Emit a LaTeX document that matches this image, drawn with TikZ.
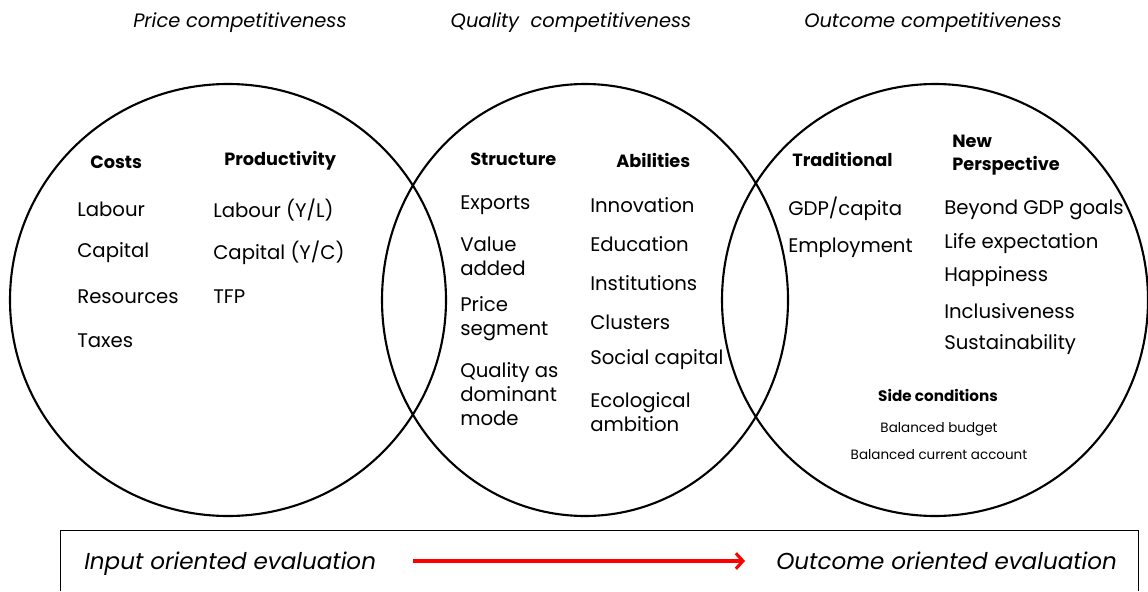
\documentclass[tikz,border=0pt]{standalone}
\usepackage{fontspec}
\setmainfont{Poppins}
\usetikzlibrary{positioning,arrows.meta}

\begin{document}
\begin{tikzpicture}[x=0.025cm,y=-0.025cm]
\tikzstyle{ring}=[draw=black, line width=1.5pt]
\tikzstyle{title}=[anchor=base, font=\fontsize{13.8}{16}\selectfont\itshape, inner sep=0pt]
\tikzstyle{head}=[anchor=west, align=left, inner sep=0pt, font=\fontsize{12.6}{16}\selectfont\bfseries]
\tikzstyle{item}=[anchor=west, align=left, inner sep=0pt, font=\fontsize{14}{17}\selectfont]
\tikzstyle{small}=[inner sep=0pt, font=\fontsize{9.6}{11}\selectfont]
\tikzstyle{evaluation}=[anchor=base west, inner sep=0pt, font=\fontsize{16.4}{19}\selectfont\itshape]
\tikzstyle{connect}=[-{Straight Barb[length=5pt,width=11pt]}, red, line width=2.2pt]

\useasboundingbox (0,0) rectangle (1148,591);

% the three circles
\draw[ring] (228,300) ellipse [x radius=218, y radius=216];
\draw[ring] (585,300) ellipse [x radius=203, y radius=216];
\draw[ring] (935,300) ellipse [x radius=213, y radius=216];

\node[title] (price) at (240,28) {Price competitiveness};
\node[title] (quality) at (571,28) {Quality\ \ competitiveness};
\node[title] (outcome) at (933,28) {Outcome competitiveness};

% price
\node[head] (costs) at (90,162) {Costs};
\node[head] (prod) at (224,161) {Productivity};
\node[item] (c1) at (77,209) {Labour};
\node[item] (c2) at (77,253) {Capital};
\node[item] (c3) at (77,297) {Resources};
\node[item] (c4) at (77,341) {Taxes};
\node[item] (p1) at (213,210) {Labour (Y/L)};
\node[item] (p2) at (213,253) {Capital (Y/C)};
\node[item] (p3) at (213,297) {TFP};

% quality
\node[head] (struct) at (470,159) {Structure};
\node[head] (abil) at (616,160) {Abilities};
\node[item] (s1) at (460,205) {Exports};
\node[item] (s2) at (460,256) {Value\\added};
\node[item] (s3) at (460,319) {Price\\segment};
\node[item] (s4) at (460,394) {Quality as\\dominant\\mode};
\node[item] (a1) at (590,205) {Innovation};
\node[item] (a2) at (590,244) {Education};
\node[item] (a3) at (590,283) {Institutions};
\node[item] (a4) at (590,322) {Clusters};
\node[item] (a5) at (590,360) {Social capital};
\node[item] (a6) at (590,412) {Ecological\\ambition};

% outcome
\node[head] (trad) at (792,159) {Traditional};
\node[head] (newp) at (952,155) {New\\Perspective};
\node[item] (t1) at (788,209) {GDP/capita};
\node[item] (t2) at (788,248) {Employment};
\node[item] (n1) at (944,210) {Beyond GDP goals};
\node[item] (n2) at (944,244) {Life expectation};
\node[item] (n3) at (944,277) {Happiness};
\node[item] (n4) at (944,311) {Inclusiveness};
\node[item] (n5) at (944,345) {Sustainability};
\node[small, font=\fontsize{10.8}{12}\selectfont\bfseries] (side) at (938,395) {Side conditions};
\node[small] (side1) at (939,429) {Balanced budget};
\node[small] (side2) at (939,455) {Balanced current account};

% evaluation box
\draw[line width=0.7pt] (60,591) |- (1138,530) -- (1138,591);
\node[evaluation] (input) at (84,569) {Input oriented evaluation};
\node[evaluation] (output) at (776,569) {Outcome oriented evaluation};
\coordinate (a0) at (413,561);
\coordinate (a1) at (745,561);
\draw[connect] (a0) -- (a1);

\end{tikzpicture}
\end{document}
